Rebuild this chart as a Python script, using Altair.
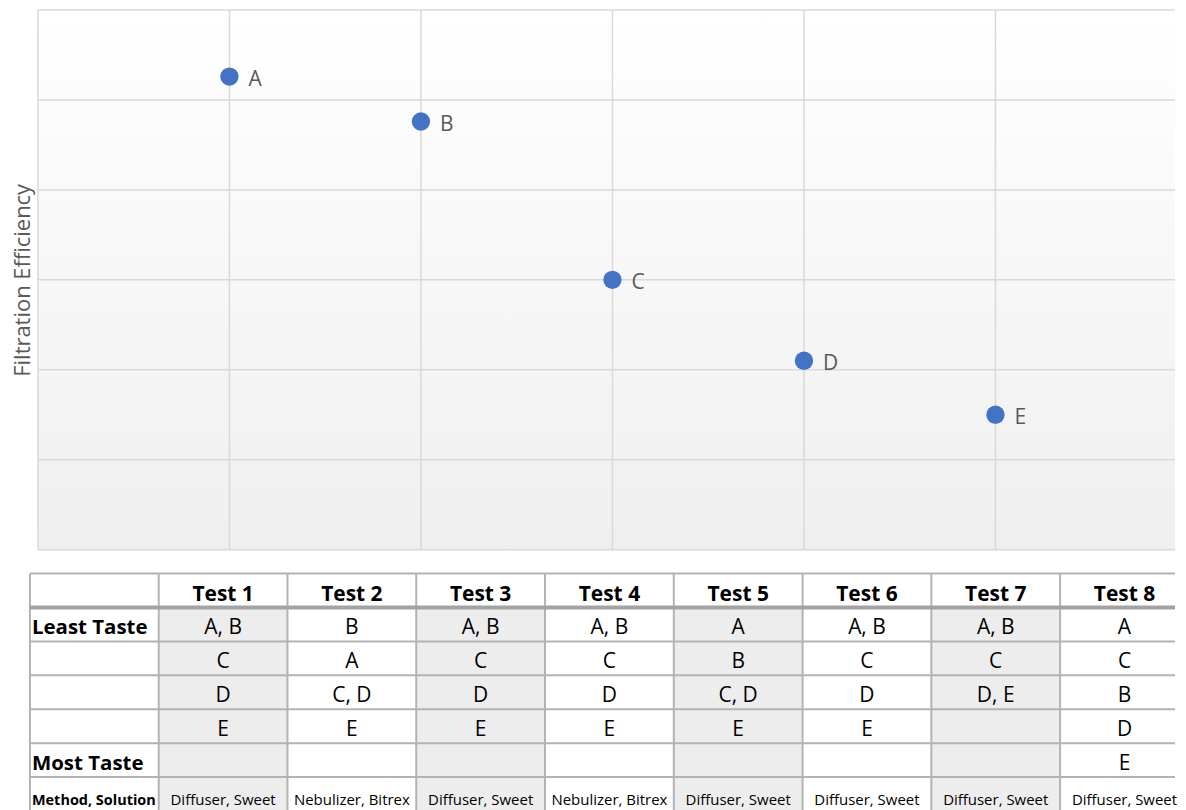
import altair as alt
import pandas as pd

# ---------------- scatter data ----------------
samples = ["A", "B", "C", "D", "E"]
sample_x = [1, 2, 3, 4, 5]
filtration_eff = [5.26, 4.76, 3.0, 2.1, 1.5]
x_grid = [0, 1, 2, 3, 4, 5]
y_grid = [0, 1, 2, 3, 4, 5, 6]

# ---------------- table data ----------------
tests = ["Test 1", "Test 2", "Test 3", "Test 4", "Test 5", "Test 6", "Test 7", "Test 8"]
row_labels = ["", "Least Taste", "", "", "", "Most Taste", "Method, Solution"]
rank_1 = ["A, B", "B", "A, B", "A, B", "A", "A, B", "A, B", "A"]
rank_2 = ["C", "A", "C", "C", "B", "C", "C", "C"]
rank_3 = ["D", "C, D", "D", "D", "C, D", "D", "D, E", "B"]
rank_4 = ["E", "E", "E", "E", "E", "E", "", "D"]
rank_5 = ["", "", "", "", "", "", "", "E"]
methods = ["Diffuser, Sweet", "Nebulizer, Bitrex", "Diffuser, Sweet", "Nebulizer, Bitrex",
           "Diffuser, Sweet", "Diffuser, Sweet", "Diffuser, Sweet", "Diffuser, Sweet"]
shaded = [True, False, True, False, True, False, True, False]

FONT = "Open Sans"
W, H = 1140, 541
X_VISIBLE = W / 192.0
ROW_PX = 34
N_ROWS = len(row_labels)
TW, TH = W, ROW_PX * N_ROWS
COL_PX = 129.1
T_VISIBLE = (TW + 8) / COL_PX

# ---------------- scatter chart ----------------
xs = alt.Scale(domain=[0, X_VISIBLE], nice=False, zero=False)
ys = alt.Scale(domain=[0, 6], nice=False, zero=False)
y_axis = alt.Axis(title="Filtration Efficiency", labels=False, ticks=False, domain=False,
                  grid=False, titleFont=FONT, titleFontSize=22, titleFontWeight="normal",
                  titleColor="#595959", titlePadding=3)

grad = alt.LinearGradient(
    gradient="linear",
    stops=[alt.GradientStop(color="#ffffff", offset=0),
           alt.GradientStop(color="#efefef", offset=1)],
    x1=1, x2=1, y1=0, y2=1)

bg = alt.Chart(pd.DataFrame({"k": [0]})).mark_rect(color=grad).encode(
    x=alt.value(0), x2=alt.value("width"), y=alt.value(0), y2=alt.value("height"))

vgrid = alt.Chart(pd.DataFrame({"gx": x_grid})).mark_rule(color="#d9d9d9", strokeWidth=1.5).encode(
    x=alt.X("gx:Q", scale=xs, axis=None), y=alt.value(0), y2=alt.value("height"))

hgrid = alt.Chart(pd.DataFrame({"gy": y_grid})).mark_rule(color="#d9d9d9", strokeWidth=1.5).encode(
    y=alt.Y("gy:Q", scale=ys, axis=y_axis), x=alt.value(0), x2=alt.value("width"))

sc = pd.DataFrame({"sample": samples, "x": sample_x, "eff": filtration_eff})
pts = alt.Chart(sc).mark_circle(size=340, color="#4472C4", opacity=1).encode(
    x=alt.X("x:Q", scale=xs, axis=None), y=alt.Y("eff:Q", scale=ys, axis=y_axis))
lbl = alt.Chart(sc).mark_text(align="left", baseline="middle", dx=19, dy=3, fontSize=21,
                              font=FONT, color="#595959").encode(
    x=alt.X("x:Q", scale=xs, axis=None), y=alt.Y("eff:Q", scale=ys, axis=y_axis), text="sample:N")

top = alt.layer(bg, vgrid, hgrid, pts, lbl).properties(width=W, height=H)

# ---------------- table chart ----------------
tx = alt.Scale(domain=[0, T_VISIBLE], range=[-8, TW], clamp=True, nice=False, zero=False)
ty = alt.Scale(domain=[0, N_ROWS], reverse=True, nice=False, zero=False)

shade_df = pd.DataFrame({"c0": [i + 1 for i, s in enumerate(shaded) if s]})
shade_df["c1"] = shade_df["c0"] + 1
shade_df["r0"] = 1
shade_df["r1"] = N_ROWS
shade = alt.Chart(shade_df).mark_rect(color="#ededed").encode(
    x=alt.X("c0:Q", scale=tx, axis=None), x2="c1:Q",
    y=alt.Y("r0:Q", scale=ty, axis=None), y2="r1:Q")

n_cols = len(tests) + 1
h_df = pd.DataFrame({"r": [r for r in range(N_ROWS) if r != 1]})
h_df["c0"] = 0
h_df["c1"] = n_cols
hlines = alt.Chart(h_df).mark_rule(color="#b3b3b3", strokeWidth=2).encode(
    x=alt.X("c0:Q", scale=tx, axis=None), x2="c1:Q", y=alt.Y("r:Q", scale=ty, axis=None))

hh_df = pd.DataFrame({"r": [1], "c0": [0], "c1": [n_cols]})
hhead = alt.Chart(hh_df).mark_rule(color="#a3a3a3", strokeWidth=4).encode(
    x=alt.X("c0:Q", scale=tx, axis=None), x2="c1:Q", y=alt.Y("r:Q", scale=ty, axis=None))

v_df = pd.DataFrame({"c": list(range(n_cols))})
v_df["r0"] = 0
v_df["r1"] = N_ROWS
vlines = alt.Chart(v_df).mark_rule(color="#b3b3b3", strokeWidth=2).encode(
    x=alt.X("c:Q", scale=tx, axis=None), y=alt.Y("r0:Q", scale=ty, axis=None), y2="r1:Q")

# text tables
head_df = pd.DataFrame({"cx": [i + 1.5 for i in range(len(tests))], "ry": 0.5, "t": tests})
lab_rows = [(r, lab) for r, lab in enumerate(row_labels) if lab and not lab.startswith("Method")]
lab_df = pd.DataFrame({"cx": 0, "ry": [r + 0.5 for r, _ in lab_rows], "t": [l for _, l in lab_rows]})
meth_lab_df = pd.DataFrame({"cx": [0], "ry": [6.5], "t": [row_labels[6]]})
val_rows = []
for r, vals in enumerate([rank_1, rank_2, rank_3, rank_4, rank_5], start=1):
    for i, v in enumerate(vals):
        if v:
            val_rows.append((i + 1.5, r + 0.5, v))
val_df = pd.DataFrame(val_rows, columns=["cx", "ry", "t"])
meth_df = pd.DataFrame({"cx": [i + 1.5 for i in range(len(methods))], "ry": 6.5, "t": methods})

def txt(df, **kw):
    return alt.Chart(df).mark_text(font=FONT, color="#000000", baseline="alphabetic", **kw).encode(
        x=alt.X("cx:Q", scale=tx, axis=None), y=alt.Y("ry:Q", scale=ty, axis=None), text="t:N")

head_txt = txt(head_df, fontWeight="bold", fontSize=21, dy=10)
lab_txt = txt(lab_df, fontWeight="bold", fontSize=20.5, align="left", dx=2, dy=10)
val_txt = txt(val_df, fontSize=21, dy=10)
meth_lab = txt(meth_lab_df, fontWeight="bold", fontSize=14.5, align="left", dx=2, dy=11)
meth_txt = txt(meth_df, fontSize=15, dy=11)

table = alt.layer(shade, vlines, hlines, hhead, head_txt, lab_txt, val_txt, meth_lab, meth_txt).properties(
    width=TW, height=TH)

chart = alt.vconcat(top, table, spacing=22).configure_view(stroke=None).properties(
    padding={"left": 4, "top": 0, "right": 0, "bottom": 0}, background="#ffffff")

chart.save("out.html", embed_options={"renderer": "svg", "actions": False})
